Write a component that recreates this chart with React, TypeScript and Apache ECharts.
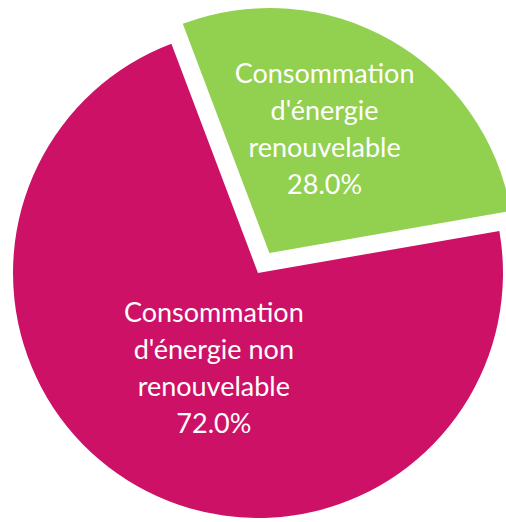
import React, { useEffect, useRef } from "react";
import * as echarts from "echarts";

const categories = [
  "Consommation\nd'énergie\nrenouvelable",
  "Consommation\nd'énergie non\nrenouvelable",
];
const values = [28, 72];
const colors = ["#92D050", "#CC1166"];
const labelShift = [
  [-7, -16],
  [18, -15],
];

export default function App() {
  const ref = useRef<HTMLDivElement>(null);
  useEffect(() => {
    if (!ref.current) return;
    const chart = echarts.init(ref.current, null, { renderer: "svg" });
    const total = values.reduce((a, b) => a + b, 0);
    chart.setOption({
      animation: false,
      series: [
        {
          type: "pie",
          center: [258, 273],
          radius: 245,
          startAngle: 110.7,
          clockwise: true,
          selectedMode: "single",
          selectedOffset: 23,
          data: categories.map((c, i) => ({
            name: c,
            value: values[i],
            selected: i === 0,
            itemStyle: { color: colors[i] },
          })),
          label: {
            show: true,
            position: "inside",
            color: "#ffffff",
            fontFamily: "Lato",
            fontSize: 27,
            lineHeight: 37,
            align: "center",
            formatter: (p: any) =>
              p.name + "\n" + ((p.value / total) * 100).toFixed(1) + "%",
          },
          labelLayout: (p: any) => ({
            dx: labelShift[p.dataIndex][0],
            dy: labelShift[p.dataIndex][1],
          }),
          labelLine: { show: false },
          emphasis: { disabled: true },
        },
      ],
    });
    return () => chart.dispose();
  }, []);
  return (
    <div
      ref={ref}
      style={{ position: "absolute", left: 0, top: 0, width: 506, height: 522, background: "#fff" }}
    />
  );
}
